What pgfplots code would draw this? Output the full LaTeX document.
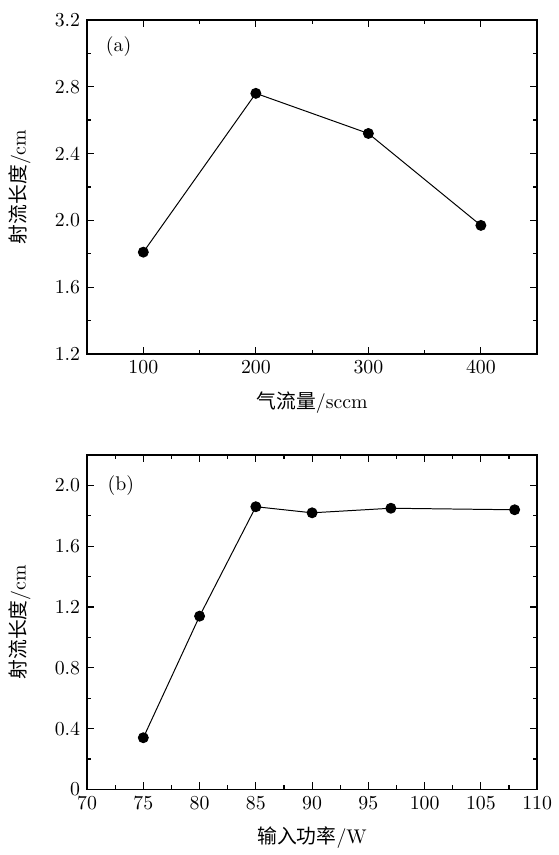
\documentclass[border=0pt]{standalone}
\usepackage{fontspec}
\usepackage{pgfplots}
\pgfplotsset{compat=1.18}
\newfontfamily\cjk{Noto Sans CJK SC}

\pgfplotsset{
  panel/.style={
    scale only axis,
    width=227.5pt,
    height=169pt,
    axis line style={line width=0.75pt},
    tick align=inside,
    major tick length=3.5pt,
    minor tick length=2pt,
    tick style={black, line width=0.6pt},
    minor tick num=1,
    ylabel style={at={(rel axis cs:0,0.5)}, anchor=center, yshift=34pt},
    xlabel style={yshift=-2pt},
  },
  dots/.style={black, line width=0.5pt, mark=*, mark size=2.5pt, mark options={fill=black, draw=black}},
}

\begin{document}
\begin{tikzpicture}
\begin{axis}[
    panel,
    at={(0,220pt)},
    xmin=50, xmax=450,
    ymin=1.2, ymax=3.2,
    xtick={100,200,300,400},
    ytick={1.2,1.6,2.0,2.4,2.8,3.2},
    yticklabels={1.2,1.6,2.0,2.4,2.8,3.2},
    xlabel={{\cjk 气流量}/sccm},
    ylabel={{\cjk 射流长度}/cm},
]
\addplot[dots] coordinates {(100,1.81) (200,2.76) (300,2.52) (400,1.97)};
\node at (rel axis cs:0.07,0.92) {(a)};
\end{axis}

\begin{axis}[
    panel,
    at={(0,0)},
    xmin=70, xmax=110,
    ymin=0, ymax=2.2,
    xtick={70,75,...,110},
    ytick={0,0.4,0.8,1.2,1.6,2.0},
    yticklabels={0,0.4,0.8,1.2,1.6,2.0},
    xlabel={{\cjk 输入功率}/W},
    ylabel={{\cjk 射流长度}/cm},
]
\addplot[dots] coordinates {(75,0.34) (80,1.14) (85,1.86) (90,1.82) (97,1.85) (108,1.84)};
\node at (rel axis cs:0.075,0.91) {(b)};
\end{axis}
\path (-44pt,-28.5pt) rectangle (236.5pt,399pt);
\end{tikzpicture}
\end{document}
